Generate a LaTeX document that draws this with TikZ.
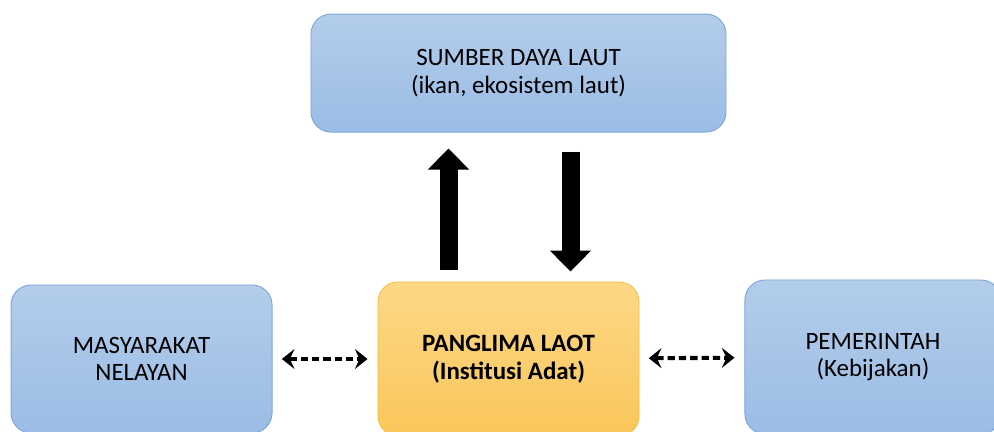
\documentclass[tikz,border=0pt]{standalone}
\usepackage{fontspec}
\setmainfont{Carlito}
\usetikzlibrary{arrows.meta,positioning,calc}

\definecolor{bluetop}{HTML}{B3CDEB}
\definecolor{bluebot}{HTML}{9BBCE5}
\definecolor{blueline}{HTML}{7FA6D8}
\definecolor{orgtop}{HTML}{FDD886}
\definecolor{orgbot}{HTML}{F9C65A}
\definecolor{orgline}{HTML}{F2BF48}

\begin{document}
\begin{tikzpicture}[
    x=0.03cm, y=-0.03cm,
    box/.style={rectangle, rounded corners=0.6cm, draw=blueline, line width=0.8pt,
        top color=bluetop, bottom color=bluebot, align=center,
        font=\fontsize{21.3}{23.5}\selectfont},
    adatbox/.style={box, draw=orgline, top color=orgtop, bottom color=orgbot,
        font=\fontsize{21.3}{23.5}\selectfont\bfseries},
    bigarrow/.style={-{Triangle[width=1.2cm,length=0.63cm]}, line width=0.54cm},
    dasharrow/.style={{Stealth[length=0.38cm,width=0.6cm,inset=0.14cm]}-{Stealth[length=0.38cm,width=0.6cm,inset=0.14cm]},
        line width=3.5pt, dash pattern=on 0.22cm off 0.12cm, shorten <=0.28cm, shorten >=0.3cm}
]
\useasboundingbox (0,0) rectangle (994,432);

\node[adatbox, minimum width=7.83cm, minimum height=4.62cm] (laot) at (508.5,359) {PANGLIMA LAOT\\(Institusi Adat)};
\node[box, minimum width=12.45cm, minimum height=3.54cm, above=4.47cm of laot, xshift=0.3cm] (laut) {SUMBER DAYA LAUT\\(ikan, ekosistem laut)};
\node[box, minimum width=7.83cm, minimum height=4.44cm, left=3.15cm of laot] (nelayan) {MASYARAKAT\\NELAYAN};
\node[box, minimum width=7.68cm, minimum height=4.62cm, right=3.15cm of laot, yshift=0.06cm] (gov) {PEMERINTAH\\(Kebijakan)};

% aliran vertikal
\draw[bigarrow, shorten <=0.36cm, shorten >=0.48cm] ([xshift=-1.8cm]laot.north) -- ([xshift=-1.8cm]laot.north |- laut.south);
\draw[bigarrow, shorten <=0.57cm, shorten >=0.3cm] ([xshift=1.86cm]laot.north |- laut.south) -- ([xshift=1.86cm]laot.north);

% hubungan dua arah
\draw[dasharrow] (nelayan) -- (laot);
\draw[dasharrow] (laot) -- (gov);

\end{tikzpicture}
\end{document}
